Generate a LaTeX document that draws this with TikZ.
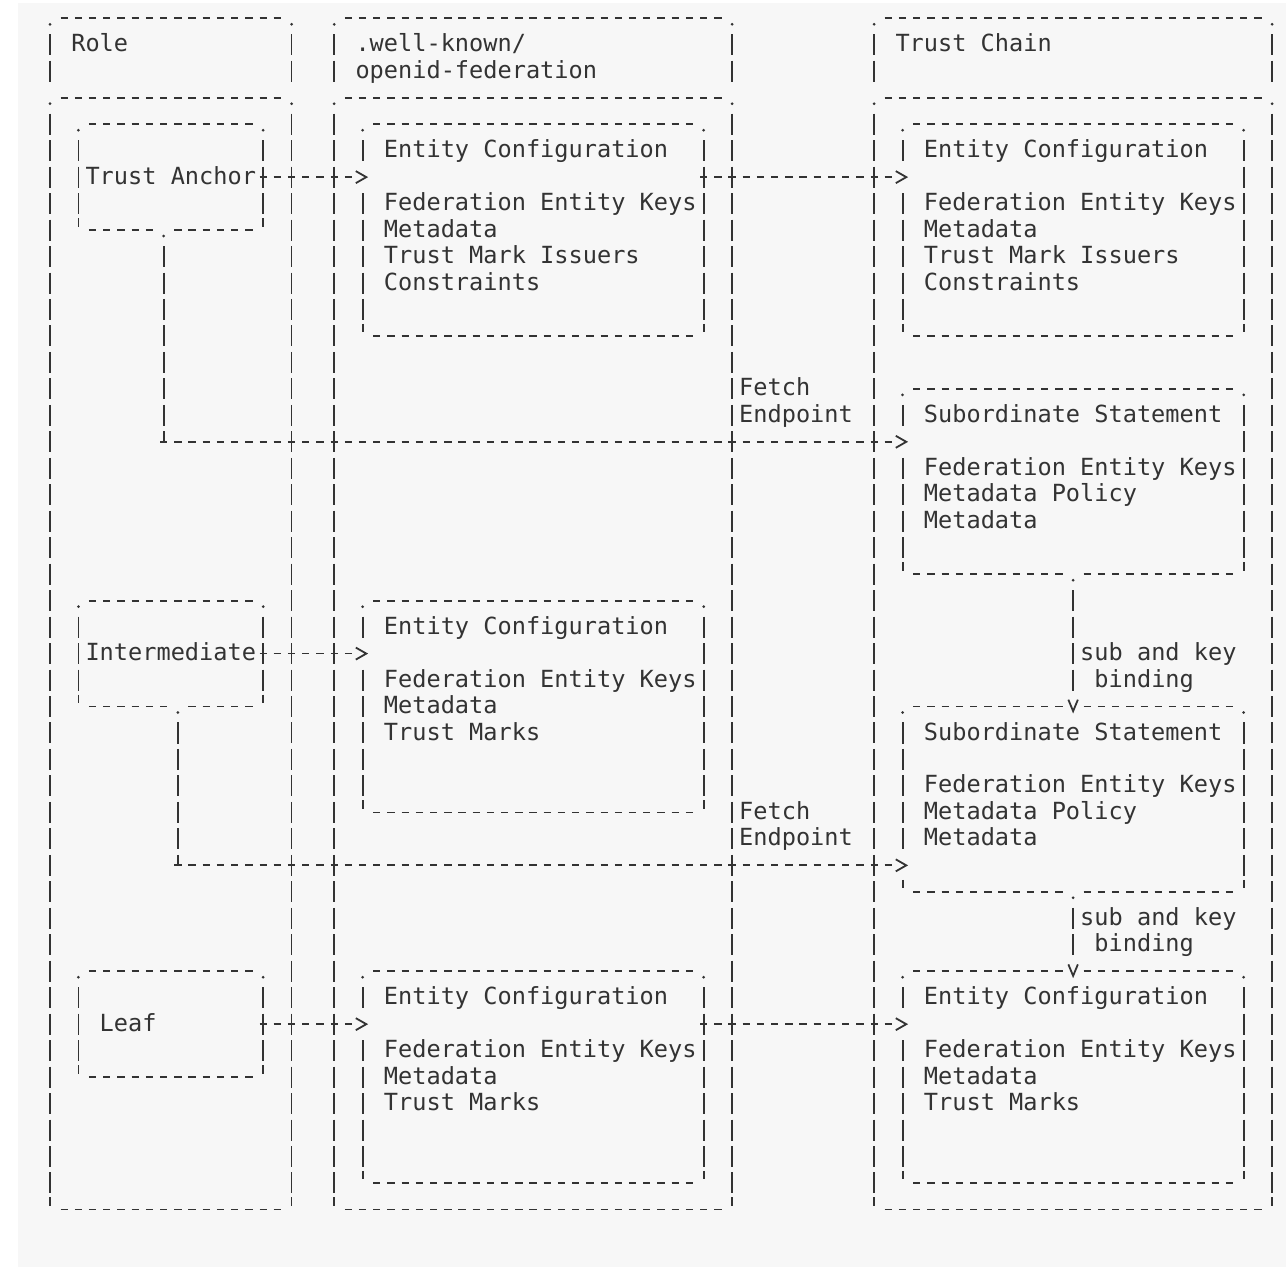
\documentclass[tikz,border=0pt]{standalone}
\usepackage{fontspec}
\setmonofont{DejaVu Sans Mono}
\usetikzlibrary{arrows.meta}

\definecolor{ink}{HTML}{333333}
\definecolor{paper}{HTML}{F7F7F7}

% Character grid: column c is centred at x = 50 + 14.21c, row r at y = -(18.3 + 26.47r)
\newcommand\colx[1]{(50+14.21*(#1))}
\newcommand\rowy[1]{(-18.3-26.47*(#1))}

% dash patterns for connectors: a fixed number of cells, then nothing up to the tip
\ExplSyntaxOn
\cs_new:Npn \hrunpattern #1 { \prg_replicate:nn {#1-1} { on~7.3pt~off~6.91pt~ } on~7.3pt~off~90pt }
\cs_new:Npn \vrunpattern #1 { \prg_replicate:nn {#1-1} { on~21pt~off~5.47pt~ } on~21pt~off~90pt }
\ExplSyntaxOff

\tikzset{
  hline/.style={draw=ink, line width=1.8pt, dash pattern=on 7.3pt off 6.91pt},
  vline/.style={draw=ink, line width=1.8pt, dash pattern=on 21pt off 5.47pt},
  boxarea/.style={rectangle, draw=none, inner sep=0pt, outer sep=0pt},
  txt/.style={anchor=base west, inner sep=0pt, outer sep=0pt, text=ink,
              font=\ttfamily\fontsize{23.6}{26.47}\selectfont},
  hconn/.style={draw=ink, line width=1.8pt, dash pattern/.expanded={\hrunpattern{#1}},
                -{Straight Barb[length=10.5pt,width=12pt]}},
  vconn/.style={draw=ink, line width=1.8pt, dash pattern/.expanded={\vrunpattern{#1}},
                -{Straight Barb[length=11.5pt,width=9.5pt]}},
}

% named area covering grid cells (c1,r1)-(c2,r2)
\newcommand\gridbox[5]{%
  \node[boxarea, minimum width={14.21*((#4)-(#2))}, minimum height={26.47*((#5)-(#3))}]
    (#1) at ({\colx{((#2)+(#4))/2}},{\rowy{((#3)+(#5))/2}}) {};}
% one line of text starting in cell (c,r)
\newcommand\gtext[4]{\node[txt] (#1) at ({\colx{#2}-7.105},{\rowy{#3}-7}) {#4};}
% dashes in cells c1..c2 of row r
\newcommand\hdashes[3]{\draw[hline] ({\colx{#1}-3.65},{\rowy{#3}}) -- ({\colx{#2}+3.65},{\rowy{#3}});}
% bars in rows r1..r2 of column c
\newcommand\vbars[3]{\draw[vline] ({\colx{#1}},{\rowy{#2}+10.5}) -- ({\colx{#1}},{\rowy{#3}-10.5});}
% rounded-corner marks: dot for upper corners, tick for lower corners
\newcommand\tdot[2]{\fill[ink] ({\colx{#1}},{\rowy{#2}-6}) circle (1.5pt);}
\newcommand\btick[2]{\draw[ink, line width=1.8pt] ({\colx{#1}},{\rowy{#2}+12}) -- ({\colx{#1}},{\rowy{#2}+3.5});}
\newcommand\corners[4]{\tdot{#1}{#2}\tdot{#3}{#2}\btick{#1}{#4}\btick{#3}{#4}}
\newcommand\fullframe[4]{%
  \hdashes{#1+1}{#3-1}{#2}\hdashes{#1+1}{#3-1}{#4}%
  \vbars{#1}{#2+1}{#4-1}\vbars{#3}{#2+1}{#4-1}%
  \corners{#1}{#2}{#3}{#4}}

\begin{document}
\begin{tikzpicture}[x=1pt, y=1pt]
\useasboundingbox (0,0) rectangle (1286,-1267);
\fill[white] (0,0) rectangle (1286,-1267);
\fill[paper] (18,-3) rectangle (1286,-1267);

% ---------------- Role column ----------------
\gridbox{roleHead}{0}{0}{17}{3}
\hdashes{1}{16}{0}\vbars{0}{1}{2}\vbars{17}{1}{2}\tdot{0}{0}\tdot{17}{0}
\gtext{roleTitle}{2}{1}{Role}
\gridbox{roleBody}{0}{3}{17}{45}
\fullframe{0}{3}{17}{45}

\gridbox{ta}{2}{4}{15}{8}
\hdashes{3}{14}{4}\hdashes{3}{7}{8}\hdashes{9}{14}{8}
\vbars{2}{5}{7}\vbars{15}{5}{7}\corners{2}{4}{15}{8}\tdot{8}{8}
\gtext{taName}{3}{6}{Trust Anchor}

\gridbox{im}{2}{22}{15}{26}
\hdashes{3}{14}{22}\hdashes{3}{8}{26}\hdashes{10}{14}{26}
\vbars{2}{23}{25}\vbars{15}{23}{25}\corners{2}{22}{15}{26}\tdot{9}{26}
\gtext{imName}{3}{24}{Intermediate}

\gridbox{leaf}{2}{36}{15}{40}
\fullframe{2}{36}{15}{40}
\gtext{leafName}{4}{38}{Leaf}

% ---------------- .well-known column ----------------
\gridbox{wkHead}{20}{0}{48}{3}
\hdashes{21}{47}{0}\vbars{20}{1}{2}\vbars{48}{1}{2}\tdot{20}{0}\tdot{48}{0}
\gtext{wkTitleA}{22}{1}{.well-known/}
\gtext{wkTitleB}{22}{2}{openid-federation}
\gridbox{wkBody}{20}{3}{48}{45}
\fullframe{20}{3}{48}{45}

\gridbox{ecTA}{22}{4}{46}{12}
\hdashes{23}{45}{4}\hdashes{23}{45}{12}
\vbars{22}{5}{5}\vbars{22}{7}{11}\vbars{46}{5}{11}\corners{22}{4}{46}{12}
\gtext{ecTAa}{24}{5}{Entity Configuration}
\gtext{ecTAb}{24}{7}{Federation Entity Keys}
\gtext{ecTAc}{24}{8}{Metadata}
\gtext{ecTAd}{24}{9}{Trust Mark Issuers}
\gtext{ecTAe}{24}{10}{Constraints}

\gridbox{ecIM}{22}{22}{46}{30}
\hdashes{23}{45}{22}\hdashes{23}{45}{30}
\vbars{22}{23}{23}\vbars{22}{25}{29}\vbars{46}{23}{29}\corners{22}{22}{46}{30}
\gtext{ecIMa}{24}{23}{Entity Configuration}
\gtext{ecIMb}{24}{25}{Federation Entity Keys}
\gtext{ecIMc}{24}{26}{Metadata}
\gtext{ecIMd}{24}{27}{Trust Marks}

\gridbox{ecLF}{22}{36}{46}{44}
\hdashes{23}{45}{36}\hdashes{23}{45}{44}
\vbars{22}{37}{37}\vbars{22}{39}{43}\vbars{46}{37}{43}\corners{22}{36}{46}{44}
\gtext{ecLFa}{24}{37}{Entity Configuration}
\gtext{ecLFb}{24}{39}{Federation Entity Keys}
\gtext{ecLFc}{24}{40}{Metadata}
\gtext{ecLFd}{24}{41}{Trust Marks}

% ---------------- Trust Chain column ----------------
\gridbox{tcHead}{58}{0}{86}{3}
\hdashes{59}{85}{0}\vbars{58}{1}{2}\vbars{86}{1}{2}\tdot{58}{0}\tdot{86}{0}
\gtext{tcTitle}{60}{1}{Trust Chain}
\gridbox{tcBody}{58}{3}{86}{45}
\fullframe{58}{3}{86}{45}

\gridbox{tcEC1}{60}{4}{84}{12}
\hdashes{61}{83}{4}\hdashes{61}{83}{12}
\vbars{60}{5}{5}\vbars{60}{7}{11}\vbars{84}{5}{11}\corners{60}{4}{84}{12}
\gtext{tcECa}{62}{5}{Entity Configuration}
\gtext{tcECb}{62}{7}{Federation Entity Keys}
\gtext{tcECc}{62}{8}{Metadata}
\gtext{tcECd}{62}{9}{Trust Mark Issuers}
\gtext{tcECe}{62}{10}{Constraints}

\gridbox{tcSS1}{60}{14}{84}{21}
\hdashes{61}{83}{14}\hdashes{61}{71}{21}\hdashes{73}{83}{21}
\vbars{60}{15}{15}\vbars{60}{17}{20}\vbars{84}{15}{20}\corners{60}{14}{84}{21}\tdot{72}{21}
\gtext{ssAa}{62}{15}{Subordinate Statement}
\gtext{ssAb}{62}{17}{Federation Entity Keys}
\gtext{ssAc}{62}{18}{Metadata Policy}
\gtext{ssAd}{62}{19}{Metadata}

\gridbox{tcSS2}{60}{26}{84}{33}
\hdashes{61}{71}{26}\hdashes{73}{83}{26}\hdashes{61}{71}{33}\hdashes{73}{83}{33}
\vbars{60}{27}{31}\vbars{84}{27}{32}\corners{60}{26}{84}{33}\tdot{72}{33}
\gtext{ssBa}{62}{27}{Subordinate Statement}
\gtext{ssBb}{62}{29}{Federation Entity Keys}
\gtext{ssBc}{62}{30}{Metadata Policy}
\gtext{ssBd}{62}{31}{Metadata}

\gridbox{tcEC3}{60}{36}{84}{44}
\hdashes{61}{71}{36}\hdashes{73}{83}{36}\hdashes{61}{83}{44}
\vbars{60}{37}{37}\vbars{60}{39}{43}\vbars{84}{37}{43}\corners{60}{36}{84}{44}
\gtext{tcLFa}{62}{37}{Entity Configuration}
\gtext{tcLFb}{62}{39}{Federation Entity Keys}
\gtext{tcLFc}{62}{40}{Metadata}
\gtext{tcLFd}{62}{41}{Trust Marks}

% ---------------- connectors ----------------
% entities publish their Entity Configurations
\draw[hconn=7] ([xshift=-3.65]ta.east) -- ([shift={(5.5,-2*26.47)}]ecTA.north west);
\draw[hconn=7] ([xshift=-3.65]im.east) -- ([shift={(5.5,-2*26.47)}]ecIM.north west);
\draw[hconn=7] ([xshift=-3.65]leaf.east) -- ([shift={(5.5,-2*26.47)}]ecLF.north west);
% configurations taken into the chain
\draw[hconn=14] ([shift={(-3.65,-2*26.47)}]ecTA.north east) -- ([shift={(5.5,-2*26.47)}]tcEC1.north west);
\draw[hconn=14] ([shift={(-3.65,-2*26.47)}]ecLF.north east) -- ([shift={(5.5,-2*26.47)}]tcEC3.north west);

% fetch endpoint of the Trust Anchor
\coordinate (taout) at ([xshift=-7.105]ta.south);
\coordinate (ss1in) at ([yshift=-2*26.47]tcSS1.north west);
\coordinate (bendA) at (taout |- ss1in);
\draw[vline] ([yshift=-15.97]taout) -- (bendA);
\draw[hconn=52] ([xshift=-3.65]bendA) -- ([xshift=5.5]ss1in);
\gtext{fetchA}{49}{14}{Fetch}
\gtext{endptA}{49}{15}{Endpoint}

% fetch endpoint of the Intermediate
\coordinate (imout) at ([xshift=7.105]im.south);
\coordinate (ss2in) at ([yshift=-6*26.47]tcSS2.north west);
\coordinate (bendB) at (imout |- ss2in);
\draw[vline] ([yshift=-15.97]imout) -- (bendB);
\draw[hconn=51] ([xshift=-3.65]bendB) -- ([xshift=5.5]ss2in);
\gtext{fetchB}{49}{30}{Fetch}
\gtext{endptB}{49}{31}{Endpoint}

% sub and key binding along the chain
\draw[vconn=4] ([yshift=-15.97]tcSS1.south) -- ([yshift=-7]tcSS2.north);
\gtext{bindAa}{73}{24}{sub and key}
\gtext{bindAb}{74}{25}{binding}
\draw[vconn=2] ([yshift=-15.97]tcSS2.south) -- ([yshift=-7]tcEC3.north);
\gtext{bindBa}{73}{34}{sub and key}
\gtext{bindBb}{74}{35}{binding}
\end{tikzpicture}
\end{document}
